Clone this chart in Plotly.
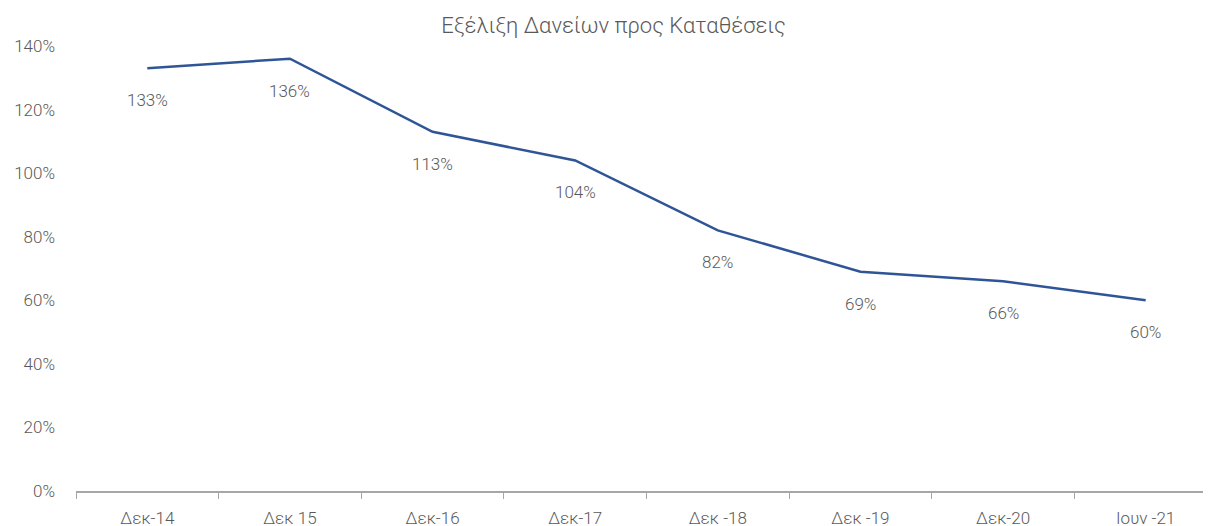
import plotly.graph_objects as go

categories = ["Δεκ-14", "Δεκ 15", "Δεκ-16", "Δεκ-17", "Δεκ -18", "Δεκ -19", "Δεκ-20", "Ιουν -21"]
ratios = [1.33, 1.36, 1.13, 1.04, 0.82, 0.69, 0.66, 0.60]
y_ticks = [0, 0.2, 0.4, 0.6, 0.8, 1.0, 1.2, 1.4]
title_text = "Εξέλιξη Δανείων προς Καταθέσεις"

FONT = "Roboto"
GRAY = "#595959"

fig = go.Figure()
fig.add_trace(go.Scatter(
    x=categories, y=ratios, mode="lines",
    line=dict(color="#2F5597", width=2.5), hoverinfo="skip", showlegend=False,
))

for c, v in zip(categories, ratios):
    fig.add_annotation(x=c, y=v, text=f"{round(v*100)}%", showarrow=False,
                       yshift=-32, font=dict(family=FONT, size=17, color=GRAY, weight=300))

fig.update_layout(
    width=1211, height=526,
    margin=dict(l=68, r=2, t=38, b=43),
    paper_bgcolor="white", plot_bgcolor="white",
    title=dict(text=title_text, x=0.5, xanchor="center", y=0.968, yanchor="middle",
               font=dict(family=FONT, size=22, color=GRAY, weight=300)),
    font=dict(family=FONT, color=GRAY),
    xaxis=dict(
        type="category", range=[-0.5, 7.5], automargin=False,
        tickson="boundaries", ticks="outside", ticklen=6,
        tickcolor="#A6A6A6", showline=True, linecolor="#A6A6A6", linewidth=1.5,
        showgrid=False, zeroline=False,
        tickfont=dict(family=FONT, size=17, color=GRAY, weight=300),
        ticklabelstandoff=11,
    ),
    yaxis=dict(
        range=[0, 1.4], tickvals=y_ticks, tickformat=".0%", showgrid=False,
        automargin=False, zeroline=False, showline=False, ticks="",
        tickfont=dict(family=FONT, size=17, color=GRAY, weight=300),
        ticklabelstandoff=20,
    ),
)

fig.write_html("out.html")
